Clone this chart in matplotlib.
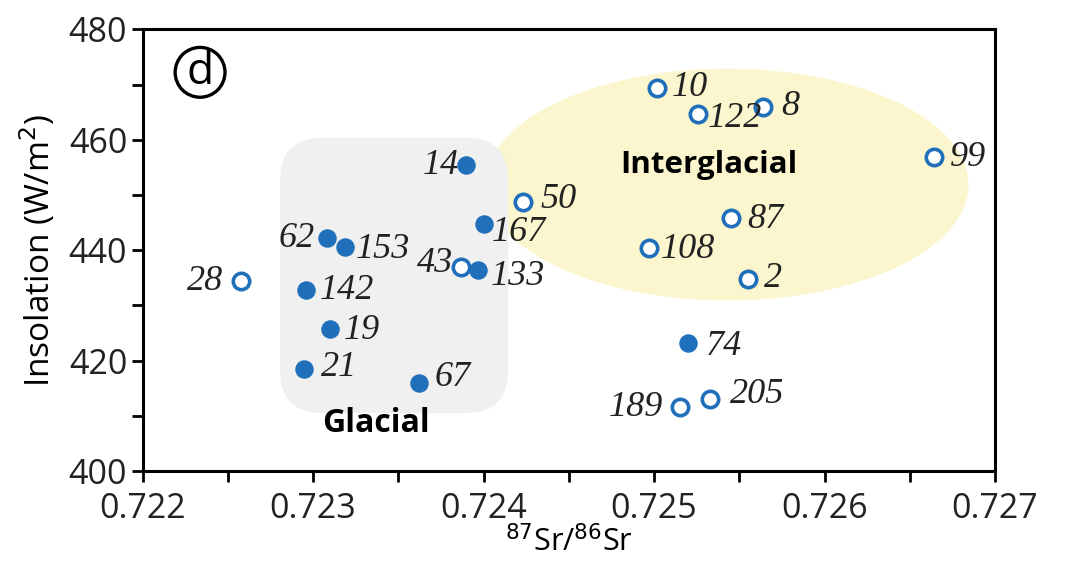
import matplotlib.pyplot as plt
from matplotlib.patches import Ellipse, FancyBboxPatch
from matplotlib.ticker import MultipleLocator

# glacial samples (filled) and interglacial samples (open)
glacial_ids = ["14", "167", "62", "153", "133", "142", "19", "74", "21", "67"]
glacial_sr = [0.72390, 0.72400, 0.72308, 0.72319, 0.72397, 0.72296, 0.72310, 0.72520, 0.72295, 0.72362]
glacial_ins = [455.4, 444.7, 442.2, 440.6, 436.4, 432.8, 425.7, 423.2, 418.5, 416.0]

inter_ids = ["10", "122", "8", "99", "50", "87", "108", "43", "28", "2", "189", "205"]
inter_sr = [0.72502, 0.72526, 0.72564, 0.72664, 0.72423, 0.72545, 0.72497, 0.72387, 0.72258, 0.72555, 0.72515, 0.72533]
inter_ins = [469.4, 464.7, 466.0, 456.9, 448.7, 445.8, 440.4, 437.0, 434.4, 434.8, 411.6, 413.1]

# where each sample number sits relative to its dot (pixels)
label_pos = {
    "10": (14, 0, "left"), "122": (9, -5, "left"), "8": (18, 0, "left"),
    "99": (16, -1, "left"), "50": (18, 3, "left"), "87": (16, -1, "left"),
    "108": (12, -1, "left"), "43": (-8, 3, "right"), "28": (-18, 0, "right"),
    "2": (16, 0, "left"), "189": (-16, -1, "right"), "205": (20, 4, "left"),
    "14": (-7, 0, "right"), "167": (8, -8, "left"), "62": (-12, 0, "right"),
    "153": (10, -3, "left"), "133": (12, -6, "left"), "142": (14, -1, "left"),
    "19": (14, -1, "left"), "74": (18, -4, "left"), "21": (16, 1, "left"),
    "67": (16, 5, "left"),
}

blue = "#1f6fba"

fig = plt.figure(figsize=(10.66, 5.64), dpi=100)
ax = fig.add_axes([0.1337, 0.1649, 0.7997, 0.7828])
ax.set_xlim(0.722, 0.727)
ax.set_ylim(400, 480)

# shaded regions
ax.add_patch(Ellipse((0.72543, 451.9), 0.00283, 42.0, facecolor="#fbf6cd",
                     edgecolor="none", zorder=1))
ax.add_patch(FancyBboxPatch((0.1612, 0.131), 0.2678, 0.624, transform=ax.transAxes,
                            boxstyle="round,pad=0,rounding_size=0.05",
                            mutation_aspect=858 / 442, facecolor="#f0f0f0",
                            edgecolor="none", zorder=2))

ax.plot(glacial_sr, glacial_ins, "o", ms=12.3, color=blue, mec=blue, zorder=4)
ax.plot(inter_sr, inter_ins, "o", ms=11.8, mfc="white", mec=blue, mew=2.6, zorder=4)

for ids, xs, ys in [(glacial_ids, glacial_sr, glacial_ins), (inter_ids, inter_sr, inter_ins)]:
    for name, x, y in zip(ids, xs, ys):
        dx, dy, ha = label_pos[name]
        ax.annotate(name, (x, y), xytext=(dx, dy), textcoords="offset pixels",
                    ha=ha, va="center", fontsize=26, style="italic",
                    family="Liberation Serif", color="#222222", zorder=5)

ax.text(0.72532, 455.5, "Interglacial", fontsize=22.5, fontweight="bold",
        family="Open Sans", ha="center", va="center", zorder=5)
ax.text(0.72337, 408.6, "Glacial", fontsize=23, fontweight="bold",
        family="Open Sans", ha="center", va="center", zorder=5)

# panel letter
ax.text(0.0675, 0.903, "d", transform=ax.transAxes, fontsize=32,
        family="Open Sans", ha="center", va="center",
        bbox=dict(boxstyle="circle,pad=0.06", fc="none", ec="black", lw=2.4))

for s in ax.spines.values():
    s.set_linewidth(2.2)
ax.xaxis.set_major_locator(MultipleLocator(0.001))
ax.xaxis.set_minor_locator(MultipleLocator(0.0005))
ax.yaxis.set_major_locator(MultipleLocator(20))
ax.yaxis.set_minor_locator(MultipleLocator(10))
ax.tick_params(which="both", direction="out", width=2, labelsize=24.5)
ax.tick_params(which="major", length=8)
ax.tick_params(which="minor", length=8)
ax.tick_params(axis="x", pad=7)
ax.tick_params(axis="y", pad=3)
ax.set_xticklabels(["%.3f" % v for v in ax.get_xticks()])
for t in ax.get_xticklabels() + ax.get_yticklabels():
    t.set_family("Open Sans")
    t.set_color("#222222")

ax.set_xlabel(r"$^{87}$Sr/$^{86}$Sr", fontsize=22, family="Open Sans", labelpad=0)
ax.set_ylabel("Insolation (W/m$^2$)", fontsize=24, family="Open Sans", labelpad=8)

fig.savefig("out.png", dpi=100)
